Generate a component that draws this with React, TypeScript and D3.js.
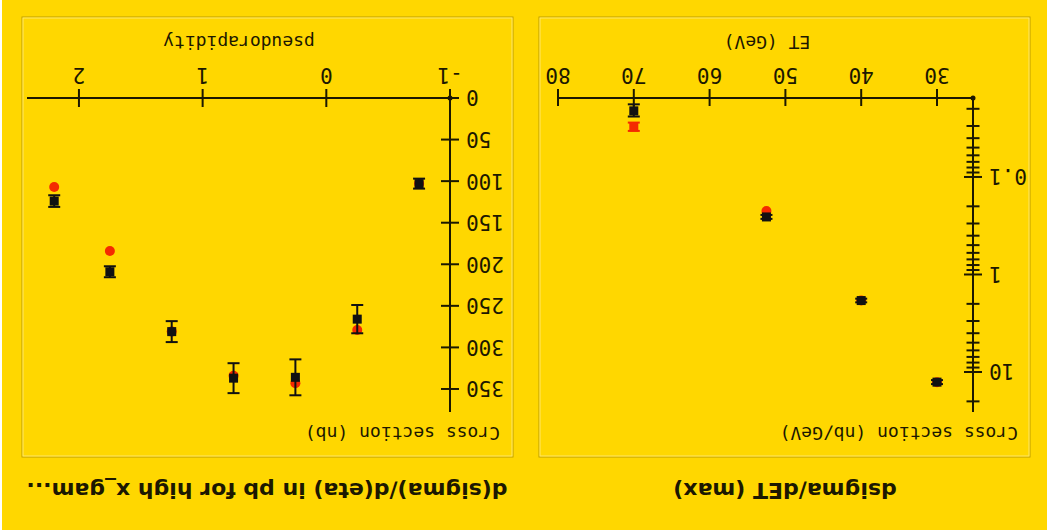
import React from 'react';
import * as d3 from 'd3';

// ---- ET panel data ----
const etBins = [30, 40, 52.5, 70];
const etMeasured = [12.7, 1.85, 0.257, 0.021];
const etMeasuredErr = [0.6, 0.08, 0.012, 0.003];
const etTheory = [12.7, 1.85, 0.223, 0.0307];
const etTheoryErr = [0, 0, 0, 0.003];
const etXTicks = [30, 40, 50, 60, 70, 80];
const etYLabelTicks = [0.1, 1, 10];
const etYLabels = ['0.1', '1', '10'];

// ---- pseudorapidity panel data ----
const etaBins = [-0.75, -0.25, 0.25, 0.75, 1.25, 1.75, 2.2];
const etaMeasured = [103, 266, 336, 337, 281, 209, 124];
const etaMeasuredErr = [6, 17, 21.6, 18, 12.6, 6.6, 7];
const etaTheory = [103, 279, 343, 334, 281, 184, 107];
const etaXTicks = [-1, 0, 1, 2];
const etaYTicks = [0, 50, 100, 150, 200, 250, 300, 350];

const W = 1047;
const H = 532;
const BG = '#FFD700';
const INK = '#1c1800';
const RED = '#F42A00';
const MONO = '"DejaVu Sans Mono", monospace';
const SANSB = '"DejaVu Sans", sans-serif';

function Panel({ x0, x1 }: { x0: number; x1: number }) {
  return (
    <g>
      <rect x={x0} y={75} width={x1 - x0} height={440} fill="none" stroke="#BE9E00" strokeWidth={1} />
      <rect x={x0 + 1} y={76} width={x1 - x0 - 2} height={438} fill="none" stroke="#FFE76A" strokeWidth={1} />
    </g>
  );
}

function Marker({ cx, cy, lo, hi, color, square }: { cx: number; cy: number; lo: number; hi: number; color: string; square: boolean }) {
  return (
    <g>
      {Math.abs(hi - lo) > 0.5 && (
        <g stroke={color} strokeWidth={2}>
          <line x1={cx} x2={cx} y1={lo} y2={hi} />
          <line x1={cx - 6} x2={cx + 6} y1={lo} y2={lo} />
          <line x1={cx - 6} x2={cx + 6} y1={hi} y2={hi} />
        </g>
      )}
      {square ? (
        <rect x={cx - 4.5} y={cy - 4.5} width={9} height={9} fill={color} />
      ) : (
        <circle cx={cx} cy={cy} r={5} fill={color} />
      )}
    </g>
  );
}

export default function App() {
  // ET panel scales (un-rotated coordinates)
  const ex = d3.scaleLinear().domain([25.25, 80]).range([74, 489]);
  const ey = d3.scaleLog().domain([0.0155, 25.7]).range([434, 120]);
  const eyTicks = ey.ticks();

  // eta panel scales
  const hx = d3.scaleLinear().domain([-1, 2.42]).range([597, 1020]);
  const hy = d3.scaleLinear().domain([0, 377.7]).range([434, 120]);

  const isMajor = (t: number) => etYLabelTicks.some((m) => Math.abs(m - t) / m < 1e-6);

  return (
    <svg
      width={W}
      height={H}
      style={{ position: 'absolute', left: 0, top: 0, display: 'block' }}
    >
      <rect x={0} y={0} width={W} height={H} fill="#fff" />
      <g transform={`rotate(180 ${W / 2} ${H / 2})`}>
        <rect x={0} y={2} width={1045} height={530} fill={BG} />

        {/* ===== ET panel ===== */}
        <Panel x0={17} x1={508} />
        <text x={262} y={49} textAnchor="middle" fontFamily={SANSB} fontWeight="bold" fontSize={22} fill={INK}>
          dsigma/dET (max)
        </text>
        <g stroke={INK} strokeWidth={2}>
          <line x1={ex.range()[0]} x2={ex.range()[1]} y1={434} y2={434} />
          <line x1={74} x2={74} y1={ey.range()[0]} y2={ey.range()[1]} />
          {etXTicks.map((t) => (
            <line key={'ext' + t} x1={ex(t)} x2={ex(t)} y1={426} y2={443} />
          ))}
          {eyTicks.map((t, i) => {
            const m = isMajor(t);
            return <line key={'eyt' + i} x1={m ? 65 : 67.5} x2={m ? 83 : 80.5} y1={ey(t)} y2={ey(t)} />;
          })}
        </g>
        <circle cx={74} cy={434} r={2.5} fill={INK} />
        {etXTicks.map((t) => (
          <text key={'exl' + t} x={ex(t)} y={464} textAnchor="middle" fontFamily={MONO} fontSize={21} fill={INK}>
            {t}
          </text>
        ))}
        {etYLabelTicks.map((t, i) => (
          <text key={'eyl' + t} x={58} y={ey(t)} dy="0.36em" textAnchor="end" fontFamily={MONO} fontSize={21} fill={INK}>
            {etYLabels[i]}
          </text>
        ))}
        <text x={280} y={496} textAnchor="middle" fontFamily={MONO} fontSize={18} fill={INK}>
          ET (GeV)
        </text>
        <text x={29} y={105} fontFamily={MONO} fontSize={18} fill={INK}>
          Cross section (nb/GeV)
        </text>
        {etBins.map((b, i) => (
          <Marker
            key={'etr' + i}
            cx={ex(b)}
            cy={ey(etTheory[i])}
            lo={ey(etTheory[i] - etTheoryErr[i])}
            hi={ey(etTheory[i] + etTheoryErr[i])}
            color={RED}
            square={etTheoryErr[i] > 0}
          />
        ))}
        {etBins.map((b, i) => (
          <Marker
            key={'etm' + i}
            cx={ex(b)}
            cy={ey(etMeasured[i])}
            lo={ey(etMeasured[i] - etMeasuredErr[i])}
            hi={ey(etMeasured[i] + etMeasuredErr[i])}
            color="#111"
            square={true}
          />
        ))}

        {/* ===== pseudorapidity panel ===== */}
        <Panel x0={534} x1={1025} />
        <text x={780} y={49} textAnchor="middle" fontFamily={SANSB} fontWeight="bold" fontSize={22} fill={INK}>
          d(sigma)/d(eta) in pb for high x_gam...
        </text>
        <g stroke={INK} strokeWidth={2}>
          <line x1={hx.range()[0]} x2={hx.range()[1]} y1={434} y2={434} />
          <line x1={597} x2={597} y1={hy.range()[0]} y2={hy.range()[1]} />
          {etaXTicks.map((t) => (
            <line key={'hxt' + t} x1={hx(t)} x2={hx(t)} y1={425} y2={443} />
          ))}
          {etaYTicks.map((t) => (
            <line key={'hyt' + t} x1={588} x2={606} y1={hy(t)} y2={hy(t)} />
          ))}
        </g>
        <circle cx={597} cy={434} r={2.5} fill={INK} />
        {etaXTicks.map((t) => (
          <text key={'hxl' + t} x={hx(t)} y={464} textAnchor="middle" fontFamily={MONO} fontSize={21} fill={INK}>
            {t < 0 ? '-' + Math.abs(t) : t}
          </text>
        ))}
        {etaYTicks.map((t) => (
          <text key={'hyl' + t} x={581} y={hy(t)} dy="0.36em" textAnchor="end" fontFamily={MONO} fontSize={21} fill={INK}>
            {t}
          </text>
        ))}
        <text x={808} y={496} textAnchor="middle" fontFamily={MONO} fontSize={18} fill={INK}>
          pseudorapidity
        </text>
        <text x={547} y={105} fontFamily={MONO} fontSize={18} fill={INK}>
          Cross section (nb)
        </text>
        {etaBins.map((b, i) => (
          <Marker key={'hr' + i} cx={hx(b)} cy={hy(etaTheory[i])} lo={0} hi={0} color={RED} square={false} />
        ))}
        {etaBins.map((b, i) => (
          <Marker
            key={'hm' + i}
            cx={hx(b)}
            cy={hy(etaMeasured[i])}
            lo={hy(etaMeasured[i] - etaMeasuredErr[i])}
            hi={hy(etaMeasured[i] + etaMeasuredErr[i])}
            color="#111"
            square={true}
          />
        ))}
      </g>
    </svg>
  );
}
